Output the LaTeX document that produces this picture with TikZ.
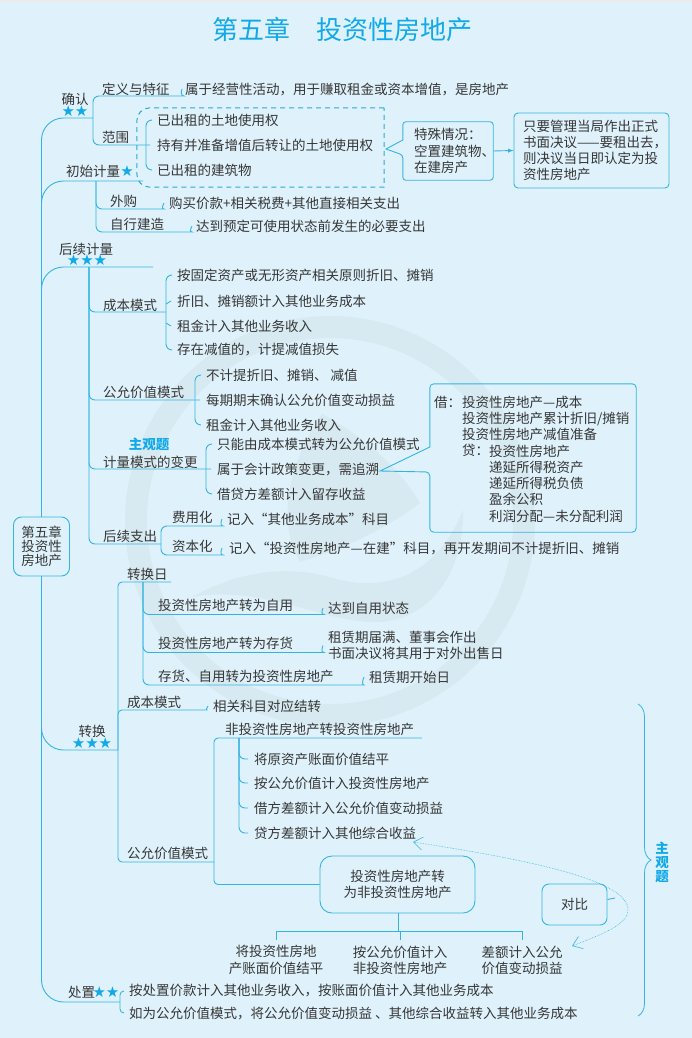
\documentclass[tikz,border=0pt]{standalone}
\usepackage{fontspec}
\setmainfont{Noto Sans CJK SC}
\newfontfamily\symfont{DejaVu Sans}
\usetikzlibrary{arrows.meta,decorations.pathreplacing}
\definecolor{bgblue}{HTML}{DFF2FB}
\definecolor{wmark}{HTML}{D8EAF1}
\definecolor{linecol}{HTML}{34B4E4}
\definecolor{hlblue}{HTML}{12A9E8}
\definecolor{ink}{HTML}{363636}
\newcommand{\bodyfont}{\fontsize{13.5}{16.2}\selectfont}
\tikzset{
	txt/.style       = {anchor=west, inner sep=0pt, align=left, text=ink, font=\bodyfont},
	ctxt/.style      = {txt, anchor=center, align=center},
	starnode/.style  = {inner sep=0pt, text=hlblue, font=\symfont\fontsize{15}{15}\selectfont},
	hltext/.style    = {inner sep=0pt, align=center, text=hlblue, font=\fontsize{13.5}{14}\selectfont\bfseries},
	link/.style      = {draw=linecol, line width=0.9pt},
	bigbend/.style   = {rounded corners=22pt},
	smallbend/.style = {rounded corners=6pt},
	boxline/.style   = {draw=linecol, line width=0.9pt},
	dashline/.style  = {draw=linecol!80!teal, line width=1pt, dash pattern=on 5pt off 4pt},
	infobox/.style   = {txt, anchor=center, inner xsep=9pt, minimum height=75pt, text width=137pt},
	ghostbox/.style  = {inner sep=0pt, rectangle}
}
\begin{document}
\begin{tikzpicture}[x=1pt,y=-1pt]
	\useasboundingbox (0,0) rectangle (692,1038);
	\fill[bgblue] (0,0) rectangle (692,1038);
	\fill[black!8] (0,0) rectangle (692,2);
	\fill[wmark,even odd rule] (330,521) circle (205) (330,521) circle (183);
	\fill[wmark] (322,414) .. controls (370,440) and (400,470) .. (420,503)
		.. controls (385,530) and (340,550) .. (300,562)
		.. controls (275,520) and (290,460) .. (322,414);
	\fill[wmark] (192,597) .. controls (240,570) and (290,565) .. (333,578)
		.. controls (380,592) and (435,580) .. (463,510)
		.. controls (465,570) and (430,625) .. (370,622)
		.. controls (320,620) and (260,585) .. (192,597);

	\node[inner sep=0pt, text=hlblue, font=\fontsize{26}{26}\selectfont] (title) at (342,30) {第五章　投资性房地产};
	\node[ctxt, inner sep=0pt, draw=linecol, line width=0.9pt, rounded corners=8pt, minimum width=56pt, minimum height=59pt, font=\fontsize{13.5}{14}\selectfont] (root) at (41.5,546.5) {第五章\\投资性\\房地产};

	\node[ctxt] (confirm) at (75,99) {确认};
	\node[starnode] (confirmstar) at (75,111) {★★};
	\node[txt] (defn) at (102,89) {定义与特征};
	\node[txt] (defntext) at (185,89) {属于经营性活动，用于赚取租金或资本增值，是房地产};
	\node[txt] (scope) at (102,137) {范围};
	\node[txt] (land1) at (157,120) {已出租的土地使用权};
	\node[txt] (land2) at (157,145) {持有并准备增值后转让的土地使用权};
	\node[txt] (land3) at (157,170) {已出租的建筑物};
	\node[ghostbox, minimum width=247pt, minimum height=79pt] (scopebox) at (260.5,147.5) {};
	\node[txt, anchor=center, inner xsep=11pt, minimum height=58pt, text width=68pt] (special) at (448,151) {特殊情况：\\空置建筑物、\\在建房产};
	\node[infobox, boxline, rounded corners=4pt] (resolve) at (591.5,150.5) {只要管理当局作出正式\\\mbox{书面决议——要租出去，}\\则决议当日即认定为投\\资性房地产};
	\coordinate (jconfirm) at (93,118);
	\coordinate (jdefn) at (178,96);
	\coordinate (jscope) at (150,145);
	\coordinate (jland) at (146,145);
	\coordinate (specialtip) at (386,149);
	\draw[link,bigbend] (root.north) |- (jconfirm);
	\draw[link,smallbend] (jconfirm) |- (jdefn) to[out=0,in=-115] ([xshift=-3pt]defntext.west);
	\draw[link,smallbend] (jconfirm) |- (jscope);
	\draw[link,smallbend] ([xshift=-5pt]land1.west) -| (jland) |- ([xshift=-5pt]land3.west);
	\draw[dashline] (scopebox.north east) [rounded corners=13pt] -- (scopebox.north west) -- (scopebox.south west) [sharp corners] -- (scopebox.south east) -- cycle;
	\draw[boxline] (special.west) ++(0,11pt) [rounded corners=3pt] |- (special.north east) |- (special.south west) -- ([yshift=-4pt]special.west) [sharp corners] -- (specialtip) -- cycle;
	\draw[link,-latex] (special.east) -- (resolve.west);

	\node[txt] (initial) at (66,171) {初始计量};
	\node[starnode] (initialstar) at (127,171) {★};
	\node[txt] (buy) at (110,201) {外购};
	\node[txt] (buytext) at (169,203) {购买价款+相关税费+其他直接相关支出};
	\node[txt] (build) at (110,224) {自行建造};
	\node[txt] (buildtext) at (196,226) {达到预定可使用状态前发生的必要支出};
	\coordinate (jinitial) at (143,181);
	\coordinate (jinitialv) at (96,181);
	\coordinate (jbuy) at (158,209);
	\coordinate (jbuild) at (186,232);
	\draw[link,bigbend] (root.north) |- (jinitial);
	\draw[link,smallbend] (jinitialv) |- (jbuy) to[out=0,in=-115] ([xshift=-5pt]buytext.west);
	\draw[link,smallbend] (jinitialv) |- (jbuild) to[out=0,in=-115] ([xshift=-4pt]buildtext.west);

	\node[ctxt] (later) at (86,249) {后续计量};
	\node[starnode] (laterstar) at (87,260) {★★★};
	\node[txt] (cost) at (103,305) {成本模式};
	\node[txt] (cost1) at (177,275) {按固定资产或无形资产相关原则折旧、摊销};
	\node[txt] (cost2) at (177,301) {折旧、摊销额计入其他业务成本};
	\node[txt] (cost3) at (177,326) {租金计入其他业务收入};
	\node[txt] (cost4) at (177,350) {存在减值的，计提减值损失};
	\node[txt] (fair) at (103,392) {公允价值模式};
	\node[txt] (fair1) at (206,375) {不计提折旧、摊销、 减值};
	\node[txt] (fair2) at (206,400) {每期期末确认公允价值变动损益};
	\node[txt] (fair3) at (206,425) {租金计入其他业务收入};
	\node[hltext] (subject1) at (149,444) {主观题};
	\node[txt] (change) at (103,462) {计量模式的变更};
	\node[txt] (change1) at (217,444) {只能由成本模式转为公允价值模式};
	\node[txt] (change2) at (217,469) {属于会计政策变更，需追溯};
	\node[txt] (change3) at (217,494) {借贷方差额计入留存收益};
	\node[ghostbox, minimum width=206pt, minimum height=148pt] (entrybox) at (533,458) {};
	\node[txt] (debit) at (434,402) {借：};
	\node[txt] (debit1) at (462,426.5) {投资性房地产—成本\\投资性房地产累计折旧/摊销\\投资性房地产减值准备\\贷：};
	\node[txt] (credit1) at (489,483.5) {投资性房地产\\递延所得税资产\\递延所得税负债\\盈余公积\\利润分配—未分配利润};
	\node[txt] (after) at (103,536) {后续支出};
	\node[txt] (expense) at (172,517) {费用化};
	\node[txt] (expensetext) at (227,519) {记入“其他业务成本”科目};
	\node[txt] (capital) at (172,546) {资本化};
	\node[txt] (capitaltext) at (229,548) {记入“投资性房地产—在建”科目，再开发期间不计提折旧、摊销};
	\coordinate (jlater) at (153,267);
	\coordinate (jlaterv) at (89,267);
	\coordinate (jcost) at (166,312);
	\coordinate (jfair) at (195,400);
	\coordinate (jchange) at (206,469);
	\coordinate (entrytip) at (380,471);
	\coordinate (jafter) at (161,544);
	\coordinate (jexpense) at (217,526);
	\coordinate (jcapital) at (217,555);
	\draw[link,bigbend] (root.north) |- (jlater);
	\draw[link,smallbend] (jlaterv) |- (jcost);
	\draw[link,smallbend] ([xshift=-5pt]cost1.west) -| (jcost) |- ([xshift=-5pt]cost4.west);
	\draw[link] ([yshift=-3pt]jcost |- cost2.west) -- ([xshift=-6pt]cost2.west);
	\draw[link] ([yshift=3pt]jcost |- cost3.west) -- ([xshift=-6pt]cost3.west);
	\draw[link,smallbend] (jlaterv) |- ([xshift=-6pt]fair2.west);
	\draw[link,smallbend] ([xshift=-5pt]fair1.west) -| (jfair) |- ([xshift=-5pt]fair3.west);
	\draw[link,smallbend] (jlaterv) |- ([xshift=-6pt]change2.west);
	\draw[link,smallbend] ([xshift=-6pt]change1.west) -| (jchange) |- ([xshift=-6pt]change3.west);
	\draw[boxline] (entrybox.west) ++(0,11pt) [rounded corners=4pt] |- (entrybox.north east) |- (entrybox.south west) -- ([yshift=-14pt]entrybox.west) [sharp corners] -- (entrytip) -- cycle;
	\draw[link,smallbend] (jlaterv) |- (jafter);
	\draw[link,smallbend] (jafter) |- (jexpense) to[out=0,in=-115] ([xshift=-5pt]expensetext.west);
	\draw[link,smallbend] (jafter) |- (jcapital) to[out=0,in=-115] ([xshift=-7pt]capitaltext.west);

	\node[ctxt] (trans) at (92,731) {转换};
	\node[starnode] (transstar) at (92,743) {★★★};
	\node[txt] (date) at (127,574) {转换日};
	\node[txt] (date1) at (158,605) {投资性房地产转为自用};
	\node[txt] (date1text) at (328,608) {达到自用状态};
	\node[txt] (date2) at (158,643) {投资性房地产转为存货};
	\node[txt] (date2text) at (328,645.5) {租赁期届满、董事会作出\\书面决议将其用于对外出售日};
	\node[txt] (date3) at (158,676) {存货、自用转为投资性房地产};
	\node[txt] (date3text) at (369,677) {租赁期开始日};
	\node[txt] (tcost) at (127,702) {成本模式};
	\node[txt] (tcosttext) at (213,706) {相关科目对应结转};
	\node[txt] (tfair) at (127,853) {公允价值模式};
	\node[txt] (nonto) at (225,729) {非投资性房地产转投资性房地产};
	\node[txt] (nonto1) at (254,759) {将原资产账面价值结平};
	\node[txt] (nonto2) at (254,783) {按公允价值计入投资性房地产};
	\node[txt] (nonto3) at (254,808) {借方差额计入公允价值变动损益};
	\node[txt] (nonto4) at (254,833) {贷方差额计入其他综合收益};
	\node[ctxt, draw=linecol, line width=0.9pt, rounded corners=12pt, minimum width=155pt, minimum height=57pt] (tonon) at (397.5,884.5) {投资性房地产转\\为非投资性房地产};
	\node[ctxt] (tonon1) at (276,960) {将投资性房地\\产账面价值结平};
	\node[ctxt] (tonon2) at (400,960) {按公允价值计入\\非投资性房地产};
	\node[ctxt] (tonon3) at (522,960) {差额计入公允\\价值变动损益};
	\node[ctxt, draw=linecol, line width=0.9pt, rounded corners=7pt, minimum width=65pt, minimum height=41pt] (compare) at (574.5,904.5) {对比};
	\coordinate (jtrans) at (118,750);
	\coordinate (jdate) at (171,582);
	\coordinate (jdatev) at (143,582);
	\coordinate (jdate1) at (318,614.5);
	\coordinate (jdate2) at (318,652.5);
	\coordinate (jdate3) at (358,685);
	\coordinate (jtcost) at (203,710);
	\coordinate (jtfair) at (214,862);
	\coordinate (jnonto) at (422,738);
	\coordinate (jnontov) at (239,738);
	\coordinate (hub) at (398,931);
	\coordinate (cmptick) at (615,898);
	\coordinate (cmptop) at (413,842);
	\coordinate (cmpbend) at (628,910);
	\coordinate (cmpbot) at (572,946);
	\draw[link,bigbend] (root.south) |- (jtrans);
	\draw[link,rounded corners=4pt] (jtrans) |- (jdate);
	\draw[link,rounded corners=4pt] (jtrans) |- (jtcost) to[out=0,in=-115] ([xshift=-5pt]tcosttext.west);
	\draw[link,rounded corners=4pt] (jtrans) |- (jtfair);
	\draw[link,smallbend] (jdatev) |- (jdate1) to[out=0,in=-115] ([xshift=-5pt]date1text.west);
	\draw[link,smallbend] (jdatev) |- (jdate2) to[out=0,in=-115] ([xshift=-5pt]date2text.west);
	\draw[link,smallbend] (jdatev) |- (jdate3) to[out=0,in=-115] ([xshift=-5pt]date3text.west);
	\draw[link,rounded corners=4pt] (jtfair) |- (jnonto);
	\draw[link,rounded corners=4pt] (jtfair) |- (tonon.west);
	\draw[link,smallbend] (jnontov) |- ([xshift=-6pt]nonto1.west);
	\draw[link,smallbend] (jnontov) |- ([xshift=-6pt]nonto2.west);
	\draw[link,smallbend] (jnontov) |- ([xshift=-6pt]nonto3.west);
	\draw[link,smallbend] (jnontov) |- ([xshift=-6pt]nonto4.west);
	\draw[link] (tonon.south -| hub) -- (hub);
	\draw[link] ([yshift=5pt]tonon1.north) |- (hub) -| ([yshift=5pt]tonon3.north);
	\draw[link] ([yshift=5pt]tonon2.north) |- (hub);
	\draw[link] ([yshift=5pt]compare.east) -- (cmptick);
	\draw[link, line width=0.6pt, densely dotted, {Straight Barb[length=9pt,width=13pt,line width=0.6pt]}-{Straight Barb[length=9pt,width=13pt,line width=0.6pt]}]
		(cmptop) .. controls (530,860) and (628,880) .. (cmpbend)
		.. controls (628,925) and (600,935) .. (cmpbot);

	\node[hltext] (subject2) at (662,862) {主\\观\\题};
	\coordinate (bracetop) at (638,704);
	\coordinate (bracebot) at (638,1016);
	\draw[link, line width=0.8pt, decorate, decoration={brace,amplitude=13pt}] (bracetop) -- (bracebot);

	\node[txt] (dispose) at (68,992) {处置};
	\node[starnode] (disposestar) at (106,992) {★★};
	\node[txt] (dispose1) at (129,991) {按处置价款计入其他业务收入，按账面价值计入其他业务成本};
	\node[txt] (dispose2) at (129,1013) {如为公允价值模式，将公允价值变动损益 、其他综合收益转入其他业务成本};
	\coordinate (jdispose) at (120,1002);
	\draw[link,bigbend] (root.south) |- (jdispose);
	\draw[link,rounded corners=4pt] ([xshift=-5pt]dispose1.west) -| (jdispose) |- ([xshift=-5pt]dispose2.west);
\end{tikzpicture}
\end{document}
